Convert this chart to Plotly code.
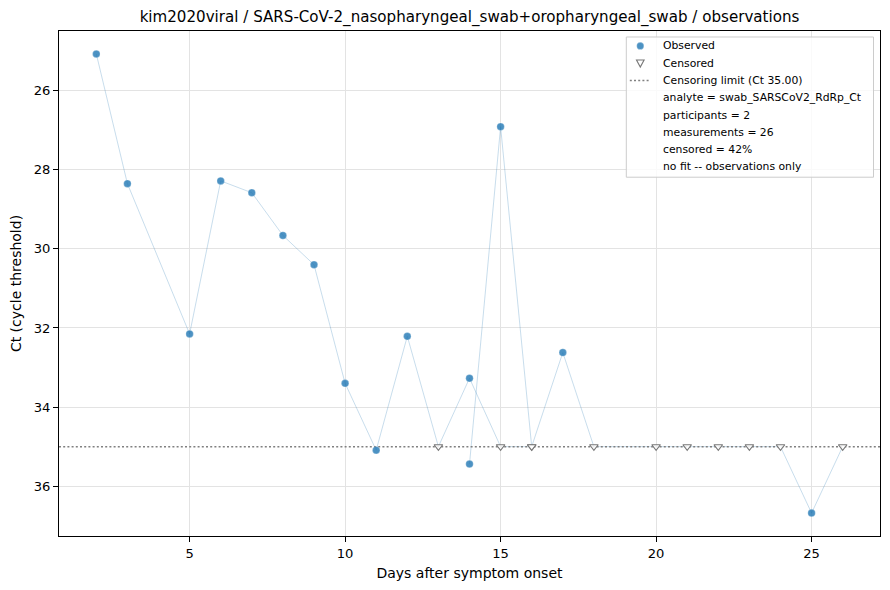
import plotly.graph_objects as go

# participant series (Ct values; censored ones sit at the limit)
DAYS_A = [2, 3, 5, 6, 7, 8, 9, 10, 11, 12, 13, 14, 15, 16]
CT_A = [25.07, 28.35, 32.15, 28.28, 28.58, 29.66, 30.40, 33.40, 35.09, 32.21, 35.0, 33.27, 35.0, 35.0]
CENS_A = [0, 0, 0, 0, 0, 0, 0, 0, 0, 0, 1, 0, 1, 1]

DAYS_B = [14, 15, 16, 17, 18, 20, 21, 22, 23, 24, 25, 26]
CT_B = [35.44, 26.91, 35.0, 32.62, 35.0, 35.0, 35.0, 35.0, 35.0, 35.0, 36.68, 35.0]
CENS_B = [0, 0, 1, 0, 1, 1, 1, 1, 1, 1, 0, 1]

CENSOR_LIMIT = 35.0
X_RANGE = [0.8, 27.2]
Y_RANGE = [37.26, 24.49]
X_TICKS = [5, 10, 15, 20, 25]
Y_TICKS = [26, 28, 30, 32, 34, 36]

LEGEND_LABELS = [
    "Observed",
    "Censored",
    f"Censoring limit (Ct {CENSOR_LIMIT:.2f})",
    "analyte = swab_SARSCoV2_RdRp_Ct",
    "participants = 2",
    "measurements = 26",
    "censored = 42%",
    "no fit -- observations only",
]

TITLE = "kim2020viral / SARS-CoV-2_nasopharyngeal_swab+oropharyngeal_swab / observations"

FONT = "DejaVu Sans, Arial, sans-serif"
OBS_COLOR = "rgba(31,119,180,0.8)"
CENS_EDGE = "#777777"
LIMIT_LINE = dict(color="#808080", width=1.5, dash="2px,2.2px")

# plot area in page pixels (890x590 canvas)
W, H = 890, 590
L, R, T, B = 58.5, 9.5, 30.5, 53.5
PW, PH = W - L - R, H - T - B


def px(x):
    return (x - L) / PW


def py(y):
    return 1 - (y - T) / PH


fig = go.Figure()

for days, ct in [(DAYS_A, CT_A), (DAYS_B, CT_B)]:
    fig.add_trace(go.Scatter(
        x=days, y=ct, mode="lines",
        line=dict(color="rgba(31,119,180,0.28)", width=0.9),
        showlegend=False, hoverinfo="skip",
    ))

obs_x, obs_y, cen_x, cen_y = [], [], [], []
for days, ct, cens in [(DAYS_A, CT_A, CENS_A), (DAYS_B, CT_B, CENS_B)]:
    for d, v, c in zip(days, ct, cens):
        if c:
            cen_x.append(d)
            cen_y.append(v)
        else:
            obs_x.append(d)
            obs_y.append(v)

fig.add_trace(go.Scatter(
    x=X_RANGE, y=[CENSOR_LIMIT, CENSOR_LIMIT], mode="lines",
    line=LIMIT_LINE, name=LEGEND_LABELS[2], showlegend=False,
))
fig.add_trace(go.Scatter(
    x=obs_x, y=obs_y, mode="markers", name="Observed", showlegend=False,
    marker=dict(color=OBS_COLOR, size=7.5,
                line=dict(color="rgba(255,255,255,0.5)", width=0.5)),
))
fig.add_trace(go.Scatter(
    x=cen_x, y=cen_y, mode="markers", name="Censored", showlegend=False,
    marker=dict(symbol="triangle-down", color="rgba(255,255,255,0.85)", size=7.5,
                line=dict(color=CENS_EDGE, width=1.1)),
))

# hand-built legend box (matplotlib-like compact spacing)
box_l, box_r, box_t, box_b = 626.5, 874, 36.5, 177
row0, row_step = 45.5, 17.3
sym_x, text_x = 640.5, 661.5

shapes = [dict(
    type="rect", xref="paper", yref="paper",
    x0=px(box_l), x1=px(box_r), y0=py(box_b), y1=py(box_t),
    line=dict(color="#cccccc", width=1), fillcolor="rgba(255,255,255,0.8)",
    layer="above",
)]
annotations = []
for i, label in enumerate(LEGEND_LABELS):
    yc = row0 + i * row_step
    annotations.append(dict(
        text=label, xref="paper", yref="paper", x=px(text_x), y=py(yc),
        xanchor="left", yanchor="middle", showarrow=False,
        font=dict(size=10.8, color="black"),
    ))
    if i == 0:
        shapes.append(dict(
            type="circle", xref="paper", yref="paper",
            xsizemode="pixel", ysizemode="pixel",
            xanchor=px(sym_x), yanchor=py(yc),
            x0=-3.6, x1=3.6, y0=-3.6, y1=3.6,
            fillcolor=OBS_COLOR, line=dict(color="rgba(255,255,255,0.5)", width=0.5),
            layer="above",
        ))
    elif i == 1:
        shapes.append(dict(
            type="path", xref="paper", yref="paper",
            xsizemode="pixel", ysizemode="pixel",
            xanchor=px(sym_x), yanchor=py(yc),
            path="M -3.8 3.3 L 3.8 3.3 L 0 -3.8 Z",
            fillcolor="white", line=dict(color=CENS_EDGE, width=1.1),
            layer="above",
        ))
    elif i == 2:
        shapes.append(dict(
            type="line", xref="paper", yref="paper",
            x0=px(630), x1=px(651), y0=py(yc), y1=py(yc),
            line=LIMIT_LINE, layer="above",
        ))

axis_common = dict(
    showline=True, linecolor="black", linewidth=1, mirror=True,
    ticks="outside", ticklen=5, tickcolor="black", tickwidth=1,
    showgrid=True, gridcolor="#e3e3e3", gridwidth=0.8, zeroline=False,
    tickfont=dict(size=13.1, color="black"), automargin=False,
)

fig.update_layout(
    width=W, height=H,
    paper_bgcolor="white", plot_bgcolor="white",
    font=dict(family=FONT, color="black", size=13),
    margin=dict(l=L, r=R, t=T, b=B),
    showlegend=False,
    title=dict(text=TITLE, x=0.5, xanchor="center", xref="paper",
               y=1 - 17 / H, yanchor="middle", font=dict(size=15.1)),
    xaxis=dict(range=X_RANGE, tickvals=X_TICKS,
               title=dict(text="Days after symptom onset", font=dict(size=14), standoff=8),
               **axis_common),
    yaxis=dict(range=Y_RANGE, tickvals=Y_TICKS,
               title=dict(text="Ct (cycle threshold)", font=dict(size=14), standoff=8),
               **axis_common),
    shapes=shapes,
    annotations=annotations,
)

fig.write_html("out.html", config={"displayModeBar": False},
               post_script="document.body.style.margin='0';")
